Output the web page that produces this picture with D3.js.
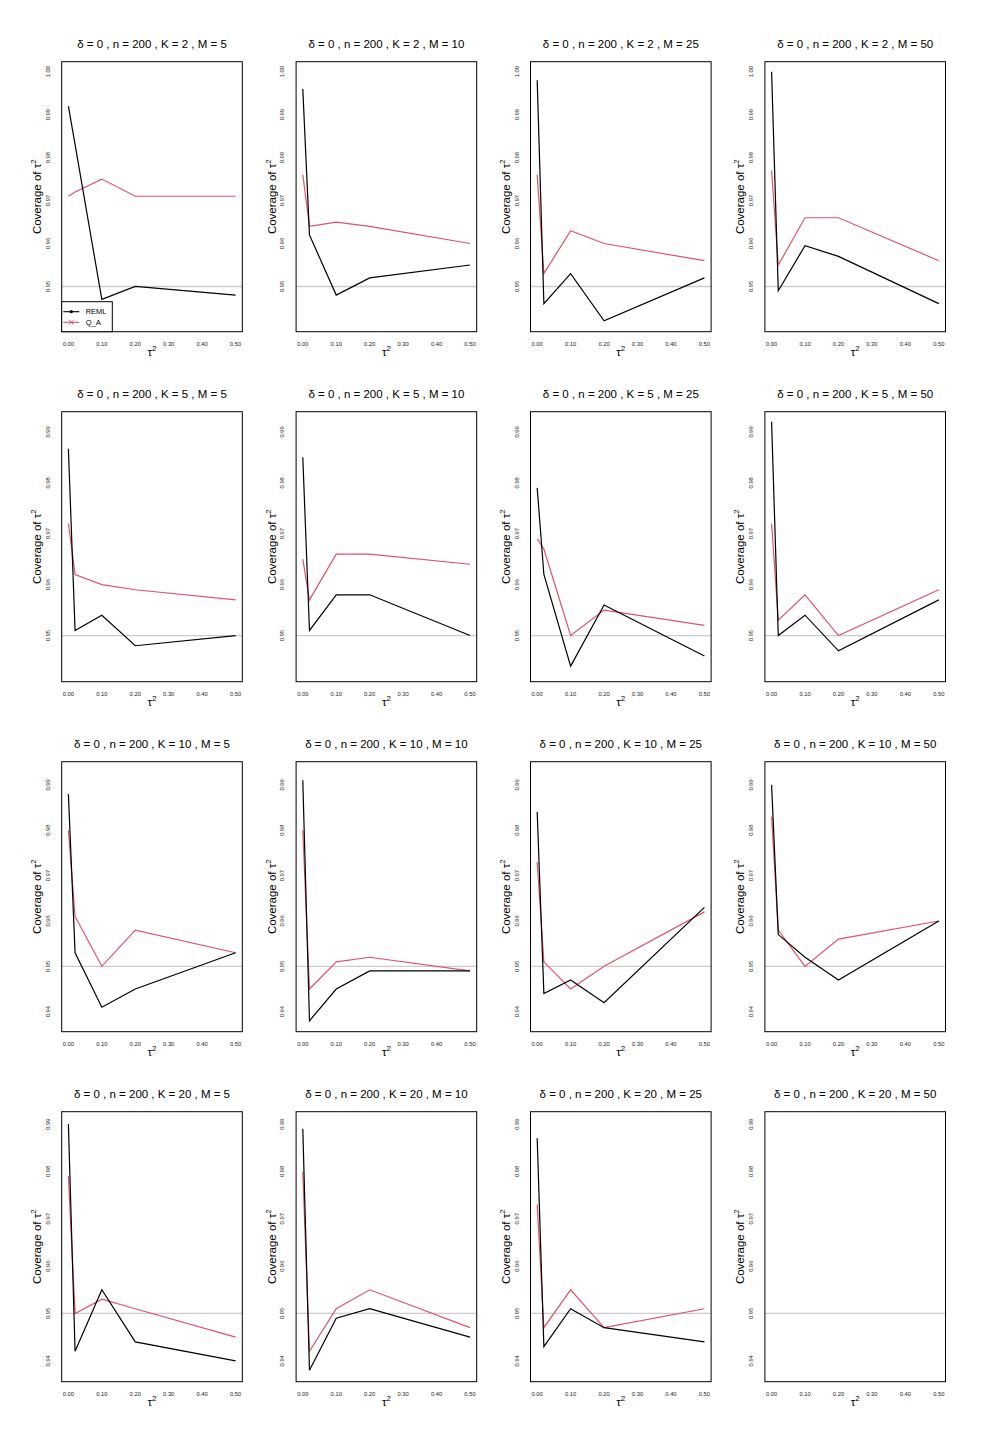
<!DOCTYPE html>
<html>
<head>
<meta charset="utf-8">
<script src="https://cdn.jsdelivr.net/npm/d3@7"></script>
<style>
  body { margin: 0; background: #fff; }
  svg { display: block; font-family: "Liberation Sans", Arial, sans-serif; }
</style>
</head>
<body>
<svg></svg>
<script>
// simulation settings
const tauValues = [0, 0.02, 0.1, 0.2, 0.5];
const kValues = [2, 5, 10, 20];
const mValues = [5, 10, 25, 50];
const xTicks = [0, 0.1, 0.2, 0.3, 0.4, 0.5];

// coverage of tau^2, one row per K, one array per M (null = not run)
const remlCoverage = [
  [[0.992, 0.983, 0.947, 0.950, 0.948],
   [0.996, 0.962, 0.948, 0.952, 0.955],
   [0.998, 0.946, 0.953, 0.942, 0.952],
   [1.000, 0.949, 0.9595, 0.957, 0.946]],
  [[0.9867, 0.951, 0.954, 0.948, 0.950],
   [0.985, 0.951, 0.958, 0.958, 0.950],
   [0.979, 0.962, 0.944, 0.956, 0.946],
   [0.992, 0.950, 0.954, 0.947, 0.957]],
  [[0.988, 0.953, 0.941, 0.945, 0.953],
   [0.991, 0.938, 0.945, 0.949, 0.949],
   [0.984, 0.944, 0.947, 0.942, 0.963],
   [0.990, 0.957, 0.952, 0.947, 0.960]],
  [[0.990, 0.942, 0.955, 0.944, 0.940],
   [0.989, 0.938, 0.949, 0.951, 0.945],
   [0.987, 0.943, 0.951, 0.947, 0.944],
   null]
];
const qaCoverage = [
  [[0.971, 0.972, 0.975, 0.971, 0.971],
   [0.976, 0.964, 0.965, 0.964, 0.960],
   [0.976, 0.953, 0.963, 0.960, 0.956],
   [0.977, 0.955, 0.966, 0.966, 0.956]],
  [[0.972, 0.962, 0.960, 0.959, 0.957],
   [0.965, 0.957, 0.966, 0.966, 0.964],
   [0.969, 0.967, 0.950, 0.955, 0.952],
   [0.972, 0.953, 0.958, 0.950, 0.959]],
  [[0.980, 0.961, 0.950, 0.958, 0.953],
   [0.980, 0.945, 0.951, 0.952, 0.949],
   [0.973, 0.951, 0.945, 0.950, 0.962],
   [0.983, 0.958, 0.950, 0.956, 0.960]],
  [[0.979, 0.950, 0.953, 0.951, 0.945],
   [0.980, 0.942, 0.951, 0.955, 0.947],
   [0.973, 0.947, 0.955, 0.947, 0.951],
   null]
];

// y limits and ticks per row (same for all panels in a row)
const yLimits = [[0.9418, 1.0], [0.9429, 0.9920], [0.9378, 0.9929], [0.9377, 0.9905]];
const yTicks = [
  [0.95, 0.96, 0.97, 0.98, 0.99, 1.00],
  [0.95, 0.96, 0.97, 0.98, 0.99],
  [0.94, 0.95, 0.96, 0.97, 0.98, 0.99],
  [0.94, 0.95, 0.96, 0.97, 0.98, 0.99]
];
const nominal = 0.95;

// layout
let config = { svg: {}, panel: {} };
config.svg.width = 990;
config.svg.height = 1452;
config.panel.left = 61.7;
config.panel.top = 61.7;
config.panel.dx = 234.4;
config.panel.dy = 350;
config.panel.width = 180.6;
config.panel.height = 270;

const red = '#DF536B';

let svg = d3.select('svg')
  .attr('width', config.svg.width)
  .attr('height', config.svg.height);

// R style axis range: 4% padding both ends
function pad(lim) {
  const r = lim[1] - lim[0];
  return [lim[0] - 0.04 * r, lim[1] + 0.04 * r];
}

kValues.forEach((k, row) => {
  mValues.forEach((m, col) => {
    const x0 = config.panel.left + col * config.panel.dx;
    const y0 = config.panel.top + row * config.panel.dy;
    const w = config.panel.width;
    const h = config.panel.height;

    const g = svg.append('g').attr('transform', `translate(${x0},${y0})`);

    const x = d3.scaleLinear().domain(pad([0, 0.5])).range([0, w]);
    const y = d3.scaleLinear().domain(pad(yLimits[row])).range([h, 0]);

    // title
    g.append('text')
      .attr('x', w / 2).attr('y', -14)
      .attr('text-anchor', 'middle')
      .attr('font-size', 11.5)
      .text(`δ = 0 , n = 200 , K = ${k} , M = ${m}`);

    // y tick labels (rotated, R las=0)
    g.selectAll('.ytick').data(yTicks[row]).join('text')
      .attr('transform', d => `translate(-12,${y(d)}) rotate(-90)`)
      .attr('text-anchor', 'middle')
      .attr('font-size', 5.8)
      .attr('fill', '#222')
      .text(d => d.toFixed(2));

    // x tick labels
    g.selectAll('.xtick').data(xTicks).join('text')
      .attr('x', d => x(d)).attr('y', h + 14.5)
      .attr('text-anchor', 'middle')
      .attr('font-size', 5.8)
      .attr('fill', '#222')
      .text(d => d.toFixed(2));

    // axis titles
    const xl = g.append('text')
      .attr('x', w / 2).attr('y', h + 24)
      .attr('text-anchor', 'middle')
      .attr('font-size', 11.5);
    xl.append('tspan').text('τ');
    xl.append('tspan').attr('dy', -5).attr('font-size', 8).text('2');

    const yl = g.append('text')
      .attr('transform', `translate(-20.5,${h / 2}) rotate(-90)`)
      .attr('text-anchor', 'middle')
      .attr('font-size', 11.5);
    yl.append('tspan').text('Coverage of τ');
    yl.append('tspan').attr('dy', -5).attr('font-size', 8).text('2');

    // reference line at nominal level
    g.append('line')
      .attr('x1', 0).attr('x2', w)
      .attr('y1', y(nominal)).attr('y2', y(nominal))
      .attr('stroke', '#cccccc').attr('stroke-width', 1.3);

    const line = d3.line()
      .x((d, i) => x(tauValues[i]))
      .y(d => y(d));

    const reml = remlCoverage[row][col];
    const qa = qaCoverage[row][col];
    if (qa) {
      g.append('path').attr('d', line(qa))
        .attr('fill', 'none').attr('stroke', red).attr('stroke-width', 1.2);
    }
    if (reml) {
      g.append('path').attr('d', line(reml))
        .attr('fill', 'none').attr('stroke', '#000').attr('stroke-width', 1.2);
    }

    // box
    g.append('rect')
      .attr('x', 0).attr('y', 0).attr('width', w).attr('height', h)
      .attr('fill', 'none').attr('stroke', '#000').attr('stroke-width', 1);

    // legend only in first panel
    if (row === 0 && col === 0) {
      const lg = g.append('g').attr('transform', `translate(0,${h - 30})`);
      lg.append('rect')
        .attr('x', 0).attr('y', 0).attr('width', 50.6).attr('height', 30)
        .attr('fill', '#fff').attr('stroke', '#000').attr('stroke-width', 1);
      const items = [{ name: 'REML', color: '#000' }, { name: 'Q_A', color: red }];
      items.forEach((it, i) => {
        const yy = 10 + i * 10.6;
        lg.append('line')
          .attr('x1', 1.6).attr('x2', 17.6).attr('y1', yy).attr('y2', yy)
          .attr('stroke', it.color).attr('stroke-width', 1.1);
        if (i === 0) {
          lg.append('circle').attr('cx', 9.6).attr('cy', yy).attr('r', 1.6).attr('fill', it.color);
        } else {
          lg.append('path')
            .attr('d', `M${7.6},${yy - 2}L${11.6},${yy + 2}M${7.6},${yy + 2}L${11.6},${yy - 2}`)
            .attr('stroke', it.color).attr('stroke-width', 1);
        }
        lg.append('text')
          .attr('x', 24).attr('y', yy + 2.5)
          .attr('font-size', 7.5)
          .text(it.name);
      });
    }
  });
});
</script>
</body>
</html>
